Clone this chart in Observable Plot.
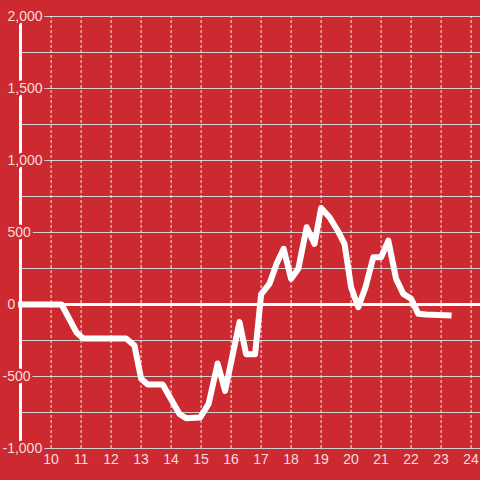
<!DOCTYPE html>
<html>
<head>
<meta charset="utf-8">
<script src="https://cdn.jsdelivr.net/npm/d3@7"></script>
<script src="https://cdn.jsdelivr.net/npm/@observablehq/plot@0.6"></script>
<style>
  html, body { margin: 0; padding: 0; background: #cc2a30; }
  #chart { width: 480px; height: 480px; }
</style>
</head>
<body>
<div id="chart"></div>
<script>
// Hour of day (decimal hours)
const hours = [9.0, 10.35, 10.85, 11.07, 12.5, 12.78, 13.0, 13.22, 13.72, 14.28, 14.5, 14.97, 15.25, 15.55, 15.8,
  16.28, 16.5, 16.8, 17.0, 17.28, 17.52, 17.75, 18.0, 18.24, 18.52, 18.78, 19.0, 19.28, 19.55, 19.78,
  20.0, 20.24, 20.48, 20.74, 21.0, 21.24, 21.5, 21.74, 22.0, 22.24, 22.5, 23.25];
// Series values
const values = [0, 0, -195, -236, -236, -285, -515, -555, -555, -760, -790, -785, -690, -410, -600,
  -122, -345, -345, 70, 145, 285, 387, 178, 248, 537, 421, 670, 606, 514, 421,
  120, -19, 120, 328, 328, 444, 178, 74, 40, -65, -69, -76];
// Axis ticks
const xTicks = [10, 11, 12, 13, 14, 15, 16, 17, 18, 19, 20, 21, 22, 23, 24];
const yGridTicks = [-1000, -750, -500, -250, 0, 250, 500, 750, 1000, 1250, 1500, 1750, 2000];
const yLabelTicks = [-1000, -500, 0, 500, 1000, 1500, 2000];

const bg = "#cc2a30";
const labelColor = "#f3dcdc";
const data = hours.map((h, i) => ({hour: h, value: values[i]}));
const fmt = (n) => n.toLocaleString("en-US");

const chart = Plot.plot({
  width: 480,
  height: 480,
  marginLeft: 20,
  marginRight: 0,
  marginTop: 16,
  marginBottom: 32,
  style: {background: bg, color: labelColor, fontFamily: "'Liberation Sans', Arial, sans-serif", fontSize: "14px"},
  x: {domain: [8.98, 24.313], axis: null},
  y: {domain: [-1000, 2000], axis: null},
  marks: [
    Plot.ruleY(yGridTicks, {stroke: "#d2d2d2", strokeWidth: 1}),
    Plot.ruleX(xTicks, {y1: -1000, y2: 2000, stroke: "#eeeeee", strokeWidth: 1, strokeDasharray: "3,2"}),
    Plot.ruleY([0], {stroke: "#ffffff", strokeWidth: 3}),
    Plot.frame({anchor: "left", stroke: "#ffffff", strokeWidth: 3}),
    Plot.line(data, {x: "hour", y: "value", stroke: "#ffffff", strokeWidth: 6, strokeLinecap: "square", strokeLinejoin: "round"}),
    Plot.text(yLabelTicks.filter(d => d >= 0), {y: d => d, text: d => fmt(d), frameAnchor: "left", textAnchor: "start", dx: -13, fill: labelColor, stroke: bg, strokeWidth: 5, fontSize: 14}),
    Plot.text(yLabelTicks.filter(d => d < 0), {y: d => d, text: d => fmt(d), frameAnchor: "left", textAnchor: "start", dx: -18, fill: labelColor, stroke: bg, strokeWidth: 5, fontSize: 14}),
    Plot.text(xTicks, {x: d => d, text: d => String(d), frameAnchor: "bottom", dy: 15, fill: labelColor, fontSize: 14})
  ]
});
document.getElementById("chart").appendChild(chart);
</script>
</body>
</html>
